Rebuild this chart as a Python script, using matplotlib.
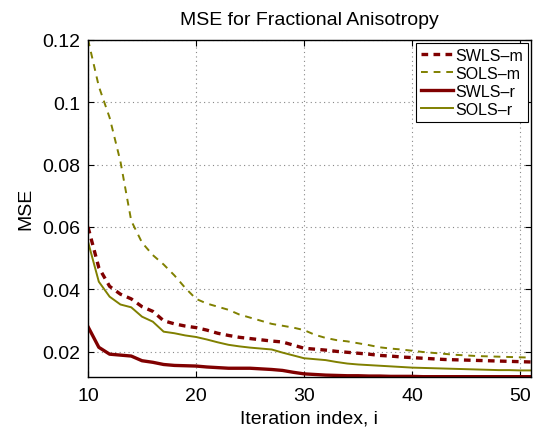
import matplotlib
matplotlib.use('Agg')
import matplotlib.pyplot as plt
import numpy as np

plt.rcParams['font.family'] = ['Liberation Sans', 'DejaVu Sans']

iters = list(range(10, 52))

swls_m = [0.060, 0.047, 0.041, 0.0385, 0.037, 0.0345, 0.033, 0.030, 0.029, 0.0283,
          0.0278, 0.027, 0.026, 0.0253, 0.0247, 0.0243, 0.0239, 0.0235, 0.0232, 0.0222,
          0.0212, 0.0209, 0.0206, 0.0202, 0.0199, 0.0196, 0.0193, 0.0189, 0.0187, 0.0184,
          0.0182, 0.0180, 0.0178, 0.0176, 0.0175, 0.0174, 0.0173, 0.0172, 0.0171, 0.0170,
          0.0169, 0.0168]
sols_m = [0.120, 0.105, 0.095, 0.081, 0.062, 0.055, 0.051, 0.048, 0.0445, 0.0405,
          0.037, 0.0355, 0.0345, 0.0335, 0.032, 0.031, 0.030, 0.029, 0.0284, 0.0278,
          0.027, 0.0255, 0.0245, 0.0238, 0.0234, 0.0228, 0.0222, 0.0215, 0.0211, 0.0208,
          0.0204, 0.0200, 0.0197, 0.0194, 0.0191, 0.0189, 0.0187, 0.0186, 0.0185, 0.0184,
          0.0183, 0.0182]
swls_r = [0.0281, 0.0215, 0.0193, 0.019, 0.0187, 0.0172, 0.0167, 0.016, 0.0157, 0.0156,
          0.0155, 0.0152, 0.015, 0.0148, 0.0148, 0.0148, 0.0146, 0.0144, 0.0141, 0.0135,
          0.013, 0.0128, 0.0126, 0.0125, 0.0124, 0.0124, 0.0123, 0.0123, 0.0122, 0.0122,
          0.0122, 0.0121, 0.0121, 0.0121, 0.0121, 0.0121, 0.0121, 0.0121, 0.0121, 0.0121,
          0.0121, 0.0121]
sols_r = [0.0553, 0.0425, 0.0377, 0.0352, 0.0343, 0.0313, 0.0297, 0.0265, 0.026, 0.0253,
          0.0248, 0.024, 0.0231, 0.0223, 0.0218, 0.0214, 0.0211, 0.0208, 0.0198, 0.0189,
          0.018, 0.0177, 0.0174, 0.0168, 0.0163, 0.016, 0.0158, 0.0156, 0.0154, 0.0152,
          0.015, 0.0149, 0.0148, 0.0147, 0.0146, 0.0145, 0.0144, 0.0143, 0.0142, 0.0142,
          0.0141, 0.0141]

xticks = [10, 20, 30, 40, 50]
yticks = [0.02, 0.04, 0.06, 0.08, 0.1, 0.12]
ytick_labels = ['0.02', '0.04', '0.06', '0.08', '0.1', '0.12']

red = '#800000'
olive = '#808000'

fig = plt.figure(figsize=(5.35, 4.31), dpi=100)
ax = fig.add_axes([0.1645, 0.123, 0.828, 0.783])

ax.plot(iters, swls_m, color=red, linestyle=(0, (2, 1.6)), linewidth=2.4, label='SWLS\u2013m')
ax.plot(iters, sols_m, color=olive, linestyle=(0, (3.5, 3)), linewidth=1.4, label='SOLS\u2013m')
ax.plot(iters, swls_r, color=red, linewidth=2.4, label='SWLS\u2013r')
ax.plot(iters, sols_r, color=olive, linewidth=1.4, label='SOLS\u2013r')

ax.set_xlim(10, 51)
ax.set_ylim(0.012, 0.12)
ax.set_xticks(xticks)
ax.set_yticks(yticks)
ax.set_yticklabels(ytick_labels)
ax.tick_params(direction='in', top=True, right=True, labelsize=14, length=4)
ax.tick_params(axis='x', pad=7)
ax.tick_params(axis='y', pad=5.5)
ax.grid(True, color='#888888', linestyle=(0, (1, 3)), linewidth=0.8)
for s in ax.spines.values():
    s.set_linewidth(1.0)

ax.set_title('MSE for Fractional Anisotropy', fontsize=14, pad=11)
ax.set_xlabel('Iteration index, i', fontsize=14, labelpad=4)
ax.set_ylabel('MSE', fontsize=14, labelpad=6)

leg = ax.legend(loc='upper right', fontsize=11.5, fancybox=False, framealpha=1,
                edgecolor='black', handlelength=2.0, handletextpad=0.15,
                borderpad=0.3, labelspacing=0.2, borderaxespad=0.2)
leg.get_frame().set_linewidth(0.8)

plt.savefig('out.png', dpi=100)
plt.close()
